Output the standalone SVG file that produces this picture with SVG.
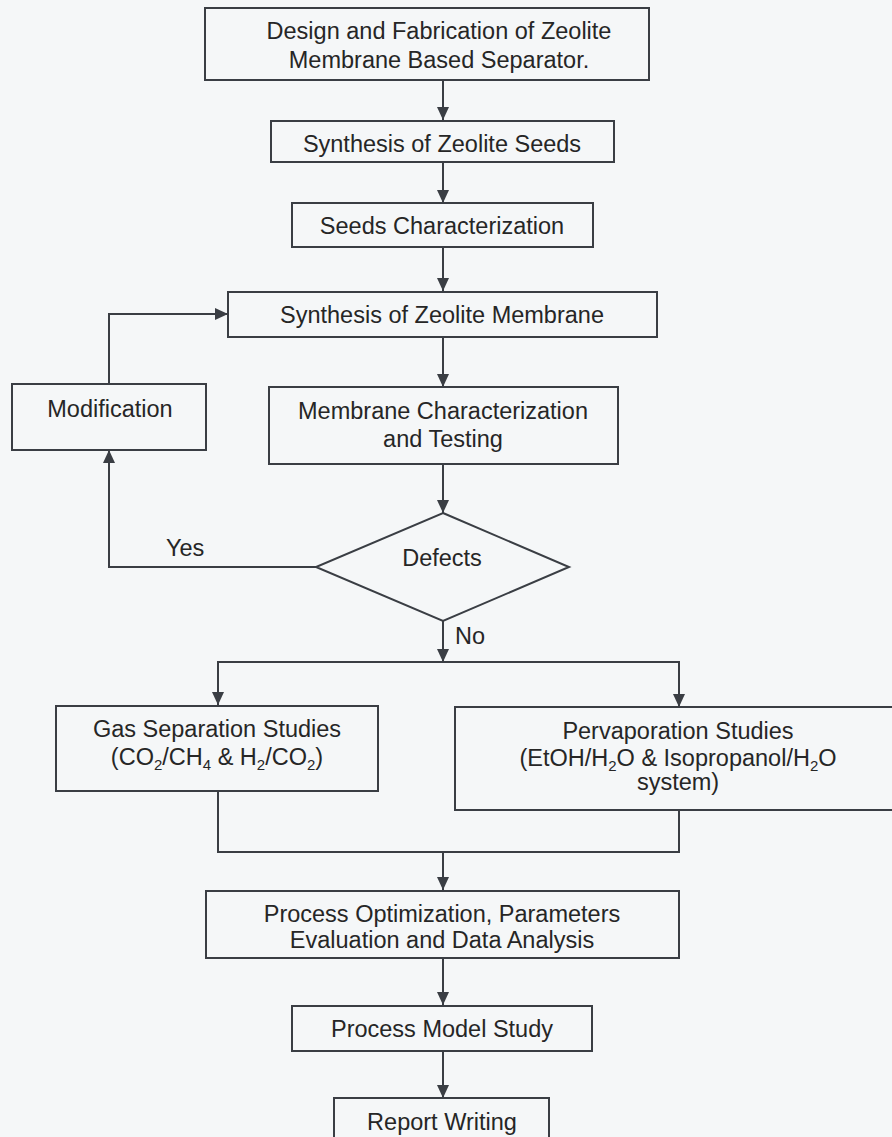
<svg xmlns="http://www.w3.org/2000/svg" width="892" height="1137" viewBox="0 0 892 1137">
<defs>
<style>
.box{fill:none;stroke:#3a3e44;stroke-width:2}
.ln{fill:none;stroke:#3a3e44;stroke-width:2}
text{font-family:"Liberation Sans",Arial,sans-serif;font-size:23.5px;fill:#262626;text-anchor:middle}
.lft{text-anchor:start}
</style>
<marker id="ah" markerUnits="userSpaceOnUse" markerWidth="14" markerHeight="14" viewBox="0 0 14 14" refX="13" refY="7" orient="auto">
<path d="M0,1 L13,7 L0,13 z" fill="#3a3e44"/>
</marker>
</defs>
<rect width="892" height="1137" fill="#f5f7f8"/>

<g id="connectors">
<path class="ln" d="M443,80 V120" marker-end="url(#ah)"/>
<path class="ln" d="M443,162 V203" marker-end="url(#ah)"/>
<path class="ln" d="M443,247 V291" marker-end="url(#ah)"/>
<path class="ln" d="M443,337 V387" marker-end="url(#ah)"/>
<path class="ln" d="M443,464 V513" marker-end="url(#ah)"/>
<path class="ln" d="M316,567 H109 V450" marker-end="url(#ah)"/>
<path class="ln" d="M109,384 V314 H228" marker-end="url(#ah)"/>
<path class="ln" d="M443,621 V662" marker-end="url(#ah)"/>
<path class="ln" d="M218,705 V662 H679 V707"/>
<path class="ln" d="M218,692 V705" marker-end="url(#ah)"/>
<path class="ln" d="M679,694 V707" marker-end="url(#ah)"/>
<path class="ln" d="M218,791 V852 H679 V810"/>
<path class="ln" d="M443,852 V890" marker-end="url(#ah)"/>
<path class="ln" d="M443,958 V1005" marker-end="url(#ah)"/>
<path class="ln" d="M443,1051 V1098" marker-end="url(#ah)"/>
<text class="lft" x="166" y="556">Yes</text>
<text class="lft" x="455" y="644">No</text>
</g>

<g id="n-design">
<rect class="box" x="205" y="8" width="444" height="72"/>
<text x="439" y="39">Design and Fabrication of Zeolite</text>
<text x="439" y="68">Membrane Based Separator.</text>
</g>

<g id="n-seeds">
<rect class="box" x="271" y="121" width="343" height="41"/>
<text x="442" y="152">Synthesis of Zeolite Seeds</text>
</g>

<g id="n-seedchar">
<rect class="box" x="292" y="203" width="301" height="44"/>
<text x="442" y="234">Seeds Characterization</text>
</g>

<g id="n-synmem">
<rect class="box" x="228" y="292" width="429" height="45"/>
<text x="442" y="323">Synthesis of Zeolite Membrane</text>
</g>

<g id="n-modification">
<rect class="box" x="12" y="384" width="194" height="66"/>
<text x="110" y="417">Modification</text>
</g>

<g id="n-memchar">
<rect class="box" x="269" y="387" width="349" height="77"/>
<text x="443" y="419">Membrane Characterization</text>
<text x="443" y="447">and Testing</text>
</g>

<g id="n-defects">
<polygon class="box" points="443,513 569,567 443,621 316,567"/>
<text x="442" y="566">Defects</text>
</g>

<g id="n-gas">
<rect class="box" x="56" y="706" width="322" height="85"/>
<text x="217" y="737">Gas Separation Studies</text>
<text x="217" y="765">(CO<tspan font-size="15" dy="5">2</tspan><tspan dy="-5">/CH</tspan><tspan font-size="15" dy="5">4</tspan><tspan dy="-5"> &amp; H</tspan><tspan font-size="15" dy="5">2</tspan><tspan dy="-5">/CO</tspan><tspan font-size="15" dy="5">2</tspan><tspan dy="-5">)</tspan></text>
</g>

<g id="n-perv">
<rect class="box" x="455" y="707" width="446" height="103"/>
<text x="678" y="739">Pervaporation Studies</text>
<text x="678" y="766">(EtOH/H<tspan font-size="15" dy="5">2</tspan><tspan dy="-5">O &amp; Isopropanol/H</tspan><tspan font-size="15" dy="5">2</tspan><tspan dy="-5">O</tspan></text>
<text x="678" y="790">system)</text>
</g>

<g id="n-optim">
<rect class="box" x="206" y="891" width="473" height="67"/>
<text x="442" y="922">Process Optimization, Parameters</text>
<text x="442" y="948">Evaluation and Data Analysis</text>
</g>

<g id="n-model">
<rect class="box" x="292" y="1006" width="300" height="45"/>
<text x="442" y="1037">Process Model Study</text>
</g>

<g id="n-report">
<rect class="box" x="334" y="1098" width="215" height="60"/>
<text x="442" y="1130">Report Writing</text>
</g>
</svg>
